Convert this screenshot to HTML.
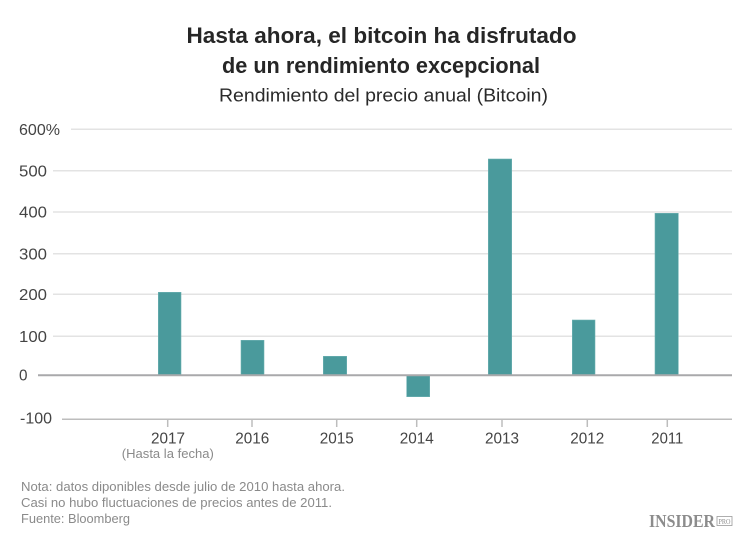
<!DOCTYPE html>
<html>
<head>
<meta charset="utf-8">
<style>
  html, body { margin: 0; padding: 0; background: #ffffff; }
  svg { display: block; }
  .sans { font-family: "Liberation Sans", "DejaVu Sans", sans-serif; }
  .serif { font-family: "Liberation Serif", "DejaVu Serif", serif; }
</style>
</head>
<body>
<svg width="750" height="538" viewBox="0 0 750 538" xmlns="http://www.w3.org/2000/svg">
  <rect x="0" y="0" width="750" height="538" fill="#ffffff"/>

  <!-- Titles -->
  <g class="sans">
  <text x="381.5" y="43" text-anchor="middle" font-size="22" font-weight="bold" fill="#262626" textLength="390" lengthAdjust="spacingAndGlyphs">Hasta ahora, el bitcoin ha disfrutado</text>
  <text x="381" y="73" text-anchor="middle" font-size="22" font-weight="bold" fill="#262626" textLength="318" lengthAdjust="spacingAndGlyphs">de un rendimiento excepcional</text>
  <text x="383.5" y="101.5" text-anchor="middle" font-size="18" fill="#2a2a2a" textLength="329" lengthAdjust="spacingAndGlyphs">Rendimiento del precio anual (Bitcoin)</text>
  </g>

  <!-- Gridlines -->
  <g stroke="#e3e3e3" stroke-width="1.5">
    <line x1="71" y1="129.3" x2="732" y2="129.3"/>
    <line x1="53" y1="170.7" x2="732" y2="170.7"/>
    <line x1="53" y1="212" x2="732" y2="212"/>
    <line x1="53" y1="253.7" x2="732" y2="253.7"/>
    <line x1="53" y1="294.3" x2="732" y2="294.3"/>
    <line x1="53" y1="336.2" x2="732" y2="336.2"/>
  </g>

  <!-- Y labels -->
  <g class="sans" font-size="16" fill="#444444">
    <text x="19" y="135" textLength="41" lengthAdjust="spacingAndGlyphs">600%</text>
    <text x="19" y="176.4" textLength="28" lengthAdjust="spacingAndGlyphs">500</text>
    <text x="19" y="217.7" textLength="28" lengthAdjust="spacingAndGlyphs">400</text>
    <text x="19" y="259.4" textLength="28" lengthAdjust="spacingAndGlyphs">300</text>
    <text x="19" y="300" textLength="28" lengthAdjust="spacingAndGlyphs">200</text>
    <text x="19" y="341.9" textLength="28" lengthAdjust="spacingAndGlyphs">100</text>
    <text x="19" y="380.7" textLength="8.5" lengthAdjust="spacingAndGlyphs">0</text>
    <text x="20" y="423.7" textLength="32" lengthAdjust="spacingAndGlyphs">-100</text>
  </g>

  <!-- Bars -->
  <g fill="#4a9a9c" stroke="#6fb2b3" stroke-width="0.6">
    <rect x="158.3" y="292.3" width="22.7" height="82.7"/>
    <rect x="241" y="340.3" width="23" height="34.7"/>
    <rect x="323.3" y="356.3" width="23.4" height="18.7"/>
    <rect x="406.7" y="375" width="23" height="21.7"/>
    <rect x="488.3" y="159" width="23.4" height="216"/>
    <rect x="572.3" y="320" width="22.7" height="55"/>
    <rect x="655" y="213.3" width="23.3" height="161.7"/>
  </g>

  <!-- Zero line -->
  <line x1="38" y1="375.3" x2="732" y2="375.3" stroke="#a9a9ab" stroke-width="2"/>

  <!-- Bottom axis -->
  <line x1="62" y1="419.2" x2="732" y2="419.2" stroke="#bdbdbd" stroke-width="1.5"/>
  <g stroke="#bdbdbd" stroke-width="1.5">
    <line x1="167.7" y1="419" x2="167.7" y2="427"/>
    <line x1="252" y1="419" x2="252" y2="427"/>
    <line x1="336.7" y1="419" x2="336.7" y2="427"/>
    <line x1="416.7" y1="419" x2="416.7" y2="427"/>
    <line x1="502" y1="419" x2="502" y2="427"/>
    <line x1="587.3" y1="419" x2="587.3" y2="427"/>
    <line x1="667.3" y1="419" x2="667.3" y2="427"/>
  </g>

  <!-- X labels -->
  <g class="sans" font-size="16" fill="#444444" text-anchor="middle">
    <text x="168" y="443.3" textLength="34" lengthAdjust="spacingAndGlyphs">2017</text>
    <text x="252.2" y="443.3" textLength="34" lengthAdjust="spacingAndGlyphs">2016</text>
    <text x="336.7" y="443.3" textLength="34" lengthAdjust="spacingAndGlyphs">2015</text>
    <text x="416.7" y="443.3" textLength="34" lengthAdjust="spacingAndGlyphs">2014</text>
    <text x="502" y="443.3" textLength="34" lengthAdjust="spacingAndGlyphs">2013</text>
    <text x="587.3" y="443.3" textLength="34" lengthAdjust="spacingAndGlyphs">2012</text>
    <text x="667.3" y="443.3" textLength="32" lengthAdjust="spacingAndGlyphs">2011</text>
  </g>
  <text class="sans" x="167.8" y="458" text-anchor="middle" font-size="13" fill="#8a8a8a" textLength="92" lengthAdjust="spacingAndGlyphs">(Hasta la fecha)</text>

  <!-- Footnotes -->
  <g class="sans" font-size="13" fill="#8a8a8a">
    <text x="21" y="491" textLength="324" lengthAdjust="spacingAndGlyphs">Nota: datos diponibles desde julio de 2010 hasta ahora.</text>
    <text x="21" y="507" textLength="311" lengthAdjust="spacingAndGlyphs">Casi no hubo fluctuaciones de precios antes de 2011.</text>
    <text x="21" y="523" textLength="109" lengthAdjust="spacingAndGlyphs">Fuente: Bloomberg</text>
  </g>

  <!-- Logo -->
  <text class="serif" x="649" y="527" font-weight="bold" font-size="17.5" fill="#8c8c8c" textLength="66" lengthAdjust="spacingAndGlyphs">INSIDER</text>
  <rect x="717" y="516.5" width="15" height="9" fill="none" stroke="#9a9a9a" stroke-width="0.8"/>
  <text class="serif" x="724.5" y="523.8" text-anchor="middle" font-size="7" fill="#8c8c8c" textLength="12" lengthAdjust="spacingAndGlyphs">PRO</text>
</svg>
</body>
</html>
